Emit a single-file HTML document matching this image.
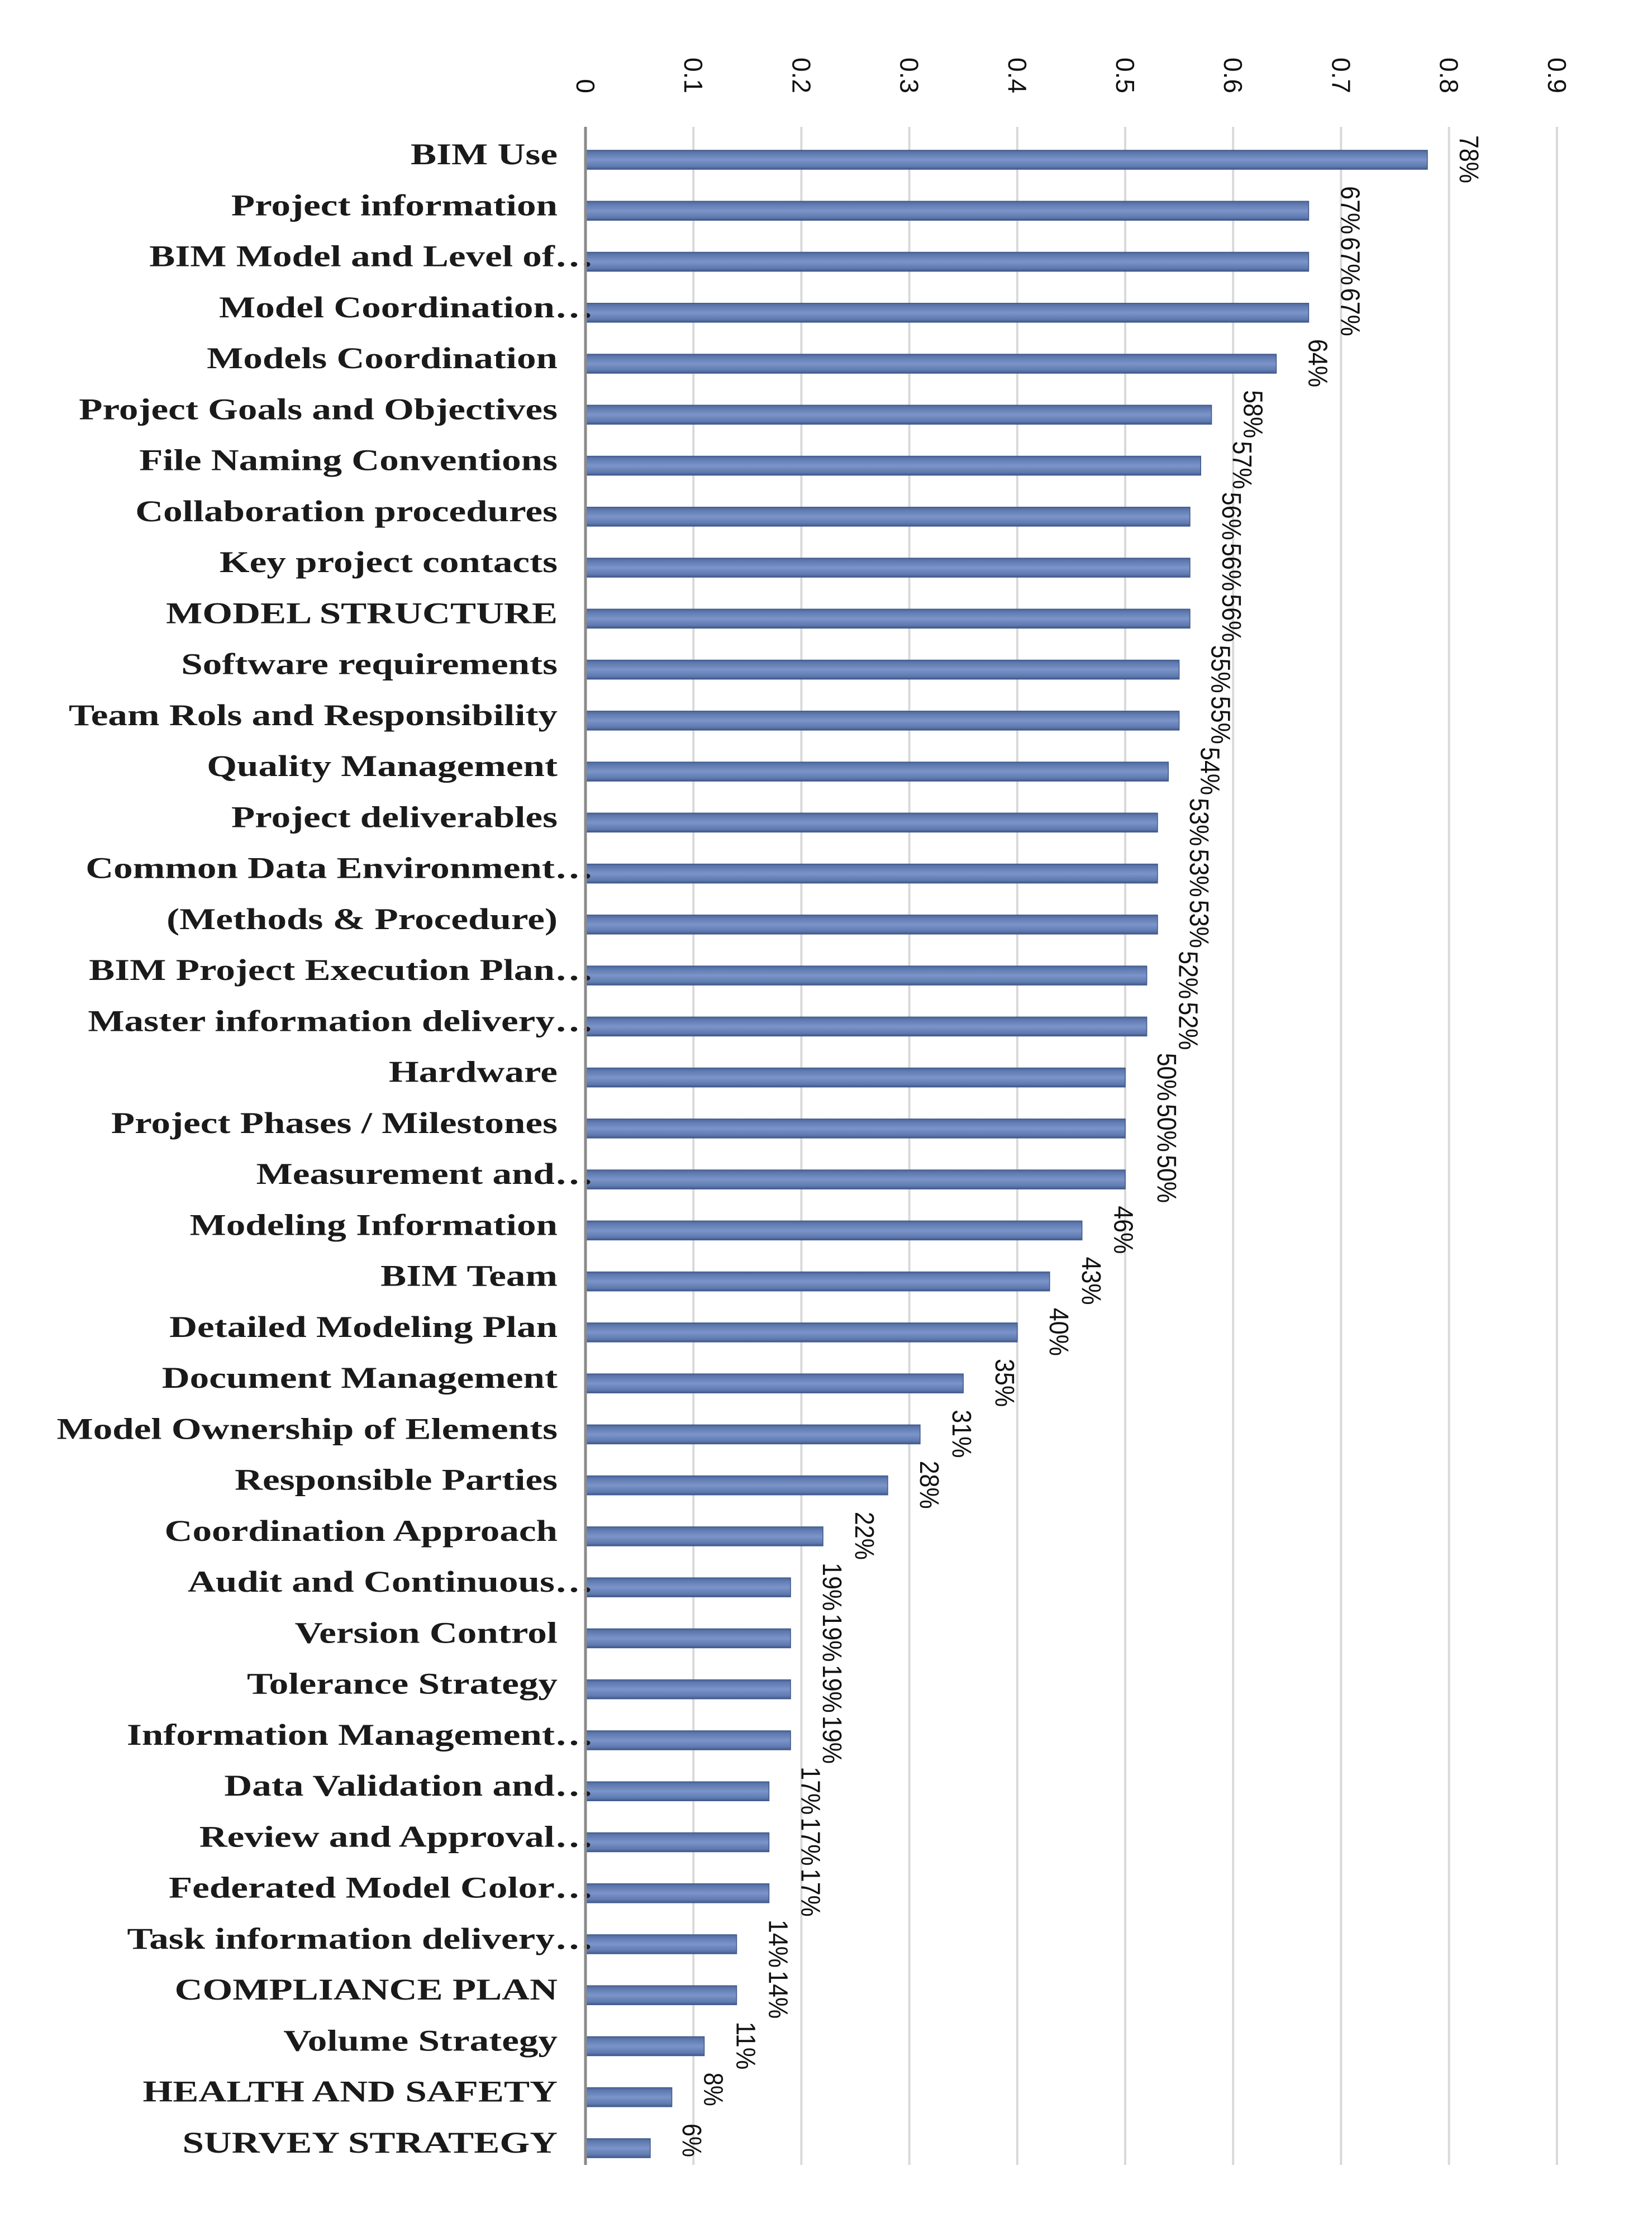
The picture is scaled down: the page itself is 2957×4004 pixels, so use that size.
<!DOCTYPE html>
<html><head><meta charset="utf-8"><style>
html,body{margin:0;padding:0;background:#fff;}
svg{display:block;}
</style></head><body>
<svg id="chart" width="2957" height="4004" viewBox="0 0 2957 4004" xmlns="http://www.w3.org/2000/svg">
<defs>
<linearGradient id="barGrad" x1="0" y1="0" x2="0" y2="1">
<stop offset="0" stop-color="#4a6699"/>
<stop offset="0.15" stop-color="#5f7ab0"/>
<stop offset="0.5" stop-color="#7b94c9"/>
<stop offset="0.85" stop-color="#5f7ab0"/>
<stop offset="1" stop-color="#41598a"/>
</linearGradient>
</defs>
<g id="grid"></g>
<g id="ticks"></g>
<g id="bars"></g>
<g id="labels"></g>
<g id="values"></g>
<line x1="1048" y1="227" x2="1048" y2="3875" stroke="#8a8a8a" stroke-width="5"/>
</svg>
<script>
const categories = ["BIM Use","Project information","BIM Model and Level of…","Model Coordination…","Models Coordination","Project Goals and Objectives","File Naming Conventions","Collaboration procedures","Key project contacts","MODEL STRUCTURE","Software requirements","Team Rols and Responsibility","Quality Management","Project deliverables","Common Data Environment…","(Methods & Procedure)","BIM Project Execution Plan…","Master information delivery…","Hardware","Project Phases / Milestones","Measurement and…","Modeling Information","BIM Team","Detailed Modeling Plan","Document Management","Model Ownership of Elements","Responsible Parties","Coordination Approach","Audit and Continuous…","Version Control","Tolerance Strategy","Information Management…","Data Validation and…","Review and Approval…","Federated Model Color…","Task information delivery…","COMPLIANCE PLAN","Volume Strategy","HEALTH AND SAFETY","SURVEY STRATEGY"];
const values = [0.78,0.67,0.67,0.67,0.64,0.58,0.57,0.56,0.56,0.56,0.55,0.55,0.54,0.53,0.53,0.53,0.52,0.52,0.50,0.50,0.50,0.46,0.43,0.40,0.35,0.31,0.28,0.22,0.19,0.19,0.19,0.19,0.17,0.17,0.17,0.14,0.14,0.11,0.08,0.06];
const valueLabels = ["78%","67%","67%","67%","64%","58%","57%","56%","56%","56%","55%","55%","54%","53%","53%","53%","52%","52%","50%","50%","50%","46%","43%","40%","35%","31%","28%","22%","19%","19%","19%","19%","17%","17%","17%","14%","14%","11%","8%","6%"];
const ticks = [0,0.1,0.2,0.3,0.4,0.5,0.6,0.7,0.8,0.9];
const tickLabels = ["0","0.1","0.2","0.3","0.4","0.5","0.6","0.7","0.8","0.9"];

const NS = "http://www.w3.org/2000/svg";
const X0 = 1048, XL = 1932, Y_FIRST = 286, Y_LAST = 3845, BAR_H = 34;
function xScale(v){ return X0 + v*XL; }
function yScale(i){ return Y_FIRST + i*(Y_LAST-Y_FIRST)/(categories.length-1); }
function mk(tag, attrs){ const e=document.createElementNS(NS,tag); for(const k in attrs) e.setAttribute(k,attrs[k]); return e; }

const grid=document.getElementById('grid'), tk=document.getElementById('ticks');
ticks.forEach((t,i)=>{
  const x=xScale(t);
  if(i>0){
    const l=mk('line',{x1:x,y1:227,x2:x,y2:3875,stroke:'#d9d9d9','stroke-width':4});
    
    
    grid.appendChild(l);
  }
  const tx=mk('text',{x:0,y:0,transform:`translate(${x-16},167) rotate(90)`,'text-anchor':'end','font-family':'"Liberation Sans", sans-serif','font-size':46,fill:'#111'});
  tx.textContent=tickLabels[i];
  
  
  tk.appendChild(tx);
});

const bars=document.getElementById('bars'), labs=document.getElementById('labels'), vals=document.getElementById('values');
categories.forEach((c,i)=>{
  const y=yScale(i), xe=xScale(values[i]);
  const r=mk('rect',{x:X0,y:y-BAR_H/2,width:xe-X0,height:BAR_H,fill:'url(#barGrad)',stroke:'#41598a','stroke-width':1.5});
  
  
  bars.appendChild(r);
  const ell=c.endsWith('…');
  const ax=ell?1062:998;
  const t=mk('text',{x:0,y:0,transform:`translate(${ax},${y+8}) scale(1.28,1)`,'text-anchor':'end','font-family':'"Liberation Serif", serif','font-size':54,'font-weight':'bold',fill:'#1a1a1a'});
  t.textContent=c;
  
  
  labs.appendChild(t);
  const v=mk('text',{x:0,y:0,transform:`translate(${xe+58},${y-44}) rotate(90)`,'font-family':'"Liberation Sans", sans-serif','font-size':48,fill:'#111',textLength:valueLabels[i].length>2?86:60,lengthAdjust:'spacingAndGlyphs'});
  v.textContent=valueLabels[i];
  
  
  vals.appendChild(v);
});
</script>
</body></html>
